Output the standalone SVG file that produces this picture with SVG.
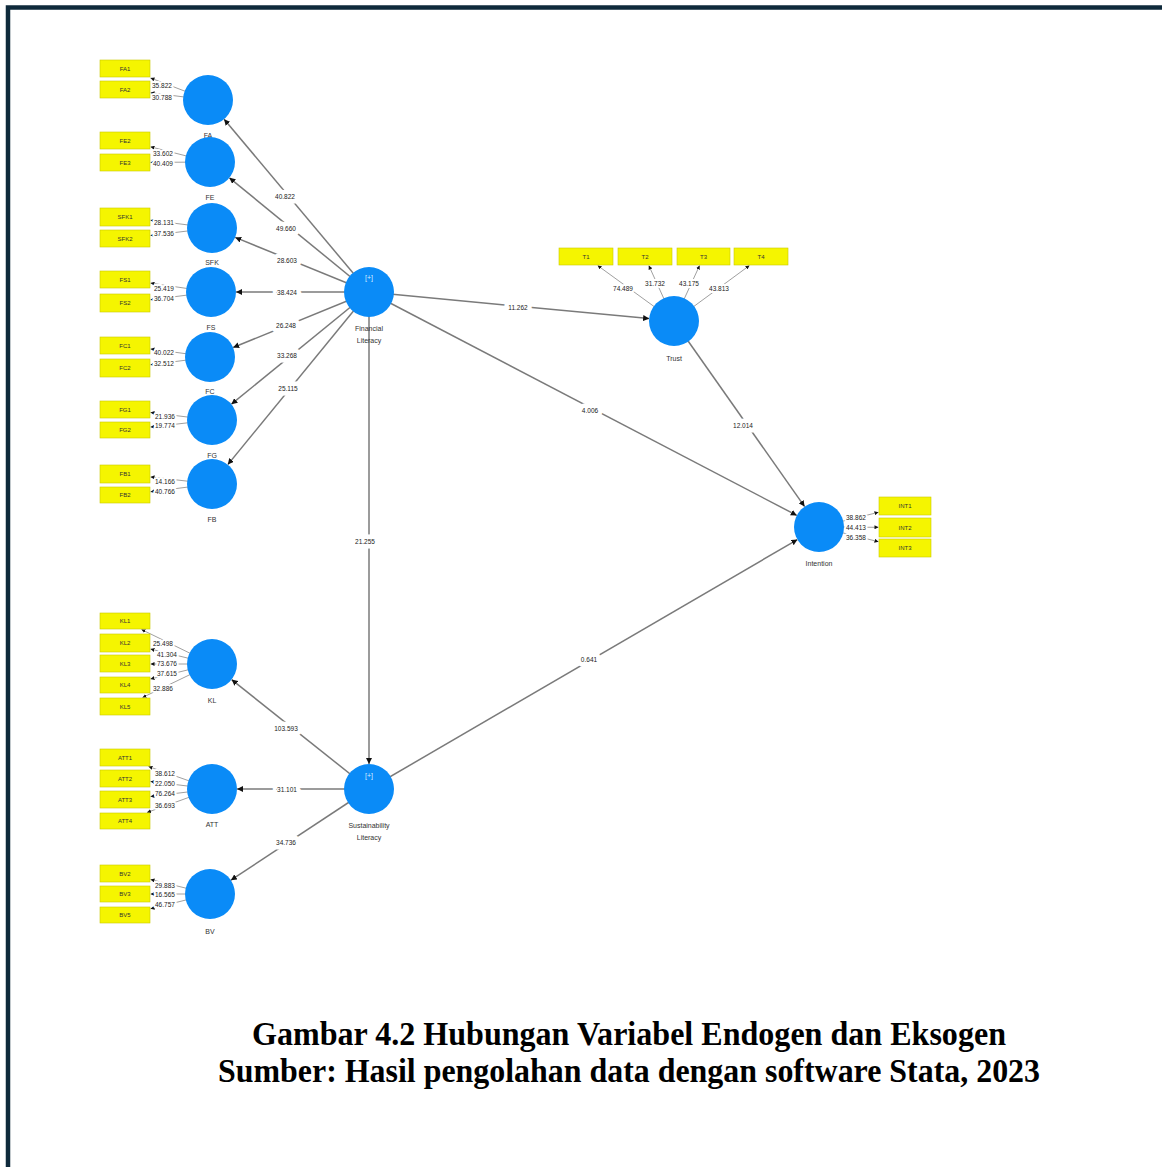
<svg xmlns="http://www.w3.org/2000/svg" width="1162" height="1167" viewBox="0 0 1162 1167">
  <style>
    .lv { fill: #0a8bf7; }
    .ind { fill: #f5f500; stroke: #c9c900; stroke-width: 0.6; }
    .indt { font-family: "Liberation Sans", Arial, sans-serif; font-size: 6px; fill: #333; text-anchor: middle; dominant-baseline: central; }
    .name { font-family: "Liberation Sans", Arial, sans-serif; font-size: 7px; fill: #333; text-anchor: middle; dominant-baseline: central; }
    .plus { font-family: "Liberation Sans", Arial, sans-serif; font-size: 7px; fill: #d8ecff; text-anchor: middle; dominant-baseline: central; }
    .path { stroke: #7a7a7a; stroke-width: 1.5; fill: none; marker-end: url(#arr); }
    .load { stroke: #a0a0a0; stroke-width: 1; fill: none; marker-end: url(#arrs); }
    .val { font-family: "Liberation Sans", Arial, sans-serif; font-size: 6.5px; fill: #222; dominant-baseline: central; paint-order: stroke; stroke: #fff; stroke-width: 4px; stroke-linejoin: round; }
    .pv { text-anchor: middle; stroke-width: 9px; }
    .cap { font-family: "Liberation Serif", "Times New Roman", serif; font-weight: bold; font-size: 33px; fill: #000; text-anchor: middle; }
  </style>
  <defs>
    <marker id="arr" markerUnits="userSpaceOnUse" markerWidth="6" markerHeight="6" refX="6" refY="3" orient="auto">
      <path d="M0,0 L6,3 L0,6 z" fill="#111"/>
    </marker>
    <marker id="arrs" markerUnits="userSpaceOnUse" markerWidth="4" markerHeight="4" refX="4" refY="2" orient="auto">
      <path d="M0,0 L4,2 L0,4 z" fill="#111"/>
    </marker>
  </defs>

  <rect width="1162" height="1167" fill="#fff"/>
  <!-- page frame -->
  <path d="M8,1167 V7.5 H1162" fill="none" stroke="#0f2a3b" stroke-width="4.5"/>

  <!-- connectors: outer loadings first, circles drawn over them -->
  <g id="connectors">
    <!-- indicator loadings -->
    <path class="load" d="M208,100 L150.5,78"/>
    <path class="load" d="M208,100 L150.5,92.7"/>
    <path class="load" d="M210,162 L150.5,146.8"/>
    <path class="load" d="M210,162 L150.5,162.4"/>
    <path class="load" d="M212,228 L150.5,220.2"/>
    <path class="load" d="M212,228 L150.5,235.5"/>
    <path class="load" d="M211,292 L150.5,283.1"/>
    <path class="load" d="M211,292 L150.5,299.8"/>
    <path class="load" d="M210,357 L150.5,348.9"/>
    <path class="load" d="M210,357 L150.5,364.8"/>
    <path class="load" d="M212,420 L150.5,412.5"/>
    <path class="load" d="M212,420 L150.5,427.1"/>
    <path class="load" d="M212,484 L150.5,476.9"/>
    <path class="load" d="M212,484 L150.5,491.8"/>
    <path class="load" d="M212,664 L141.5,629.5"/>
    <path class="load" d="M212,664 L150.5,649"/>
    <path class="load" d="M212,664 L150.5,664"/>
    <path class="load" d="M212,664 L150.5,679"/>
    <path class="load" d="M212,664 L142.5,697.5"/>
    <path class="load" d="M212,789 L148.5,766.5"/>
    <path class="load" d="M212,789 L150.5,781.5"/>
    <path class="load" d="M212,789 L150.5,796.5"/>
    <path class="load" d="M212,789 L147,812.5"/>
    <path class="load" d="M210,894 L150.5,879.5"/>
    <path class="load" d="M210,894 L150.5,894"/>
    <path class="load" d="M210,894 L150.5,908.8"/>
    <path class="load" d="M674,321 L597.6,265.5"/>
    <path class="load" d="M674,321 L648.8,265.5"/>
    <path class="load" d="M674,321 L699.6,265.5"/>
    <path class="load" d="M674,321 L749.5,265.5"/>
    <path class="load" d="M819,527 L878.5,512.3"/>
    <path class="load" d="M819,527 L878.5,527.3"/>
    <path class="load" d="M819,527 L878.5,541.7"/>

    <!-- structural paths -->
    <path class="path" d="M369,292 L224.1,119.2"/>
    <path class="path" d="M369,292 L229.4,177.8"/>
    <path class="path" d="M369,292 L235.2,237.4"/>
    <path class="path" d="M369,292 L236,292"/>
    <path class="path" d="M369,292 L233.1,347.5"/>
    <path class="path" d="M369,292 L231.4,404.2"/>
    <path class="path" d="M369,292 L227.8,464.6"/>
    <path class="path" d="M369,292 L649.1,318.6"/>
    <path class="path" d="M369,292 L796.8,515.4"/>
    <path class="path" d="M369,292 L369,764"/>
    <path class="path" d="M674,321 L804.6,506.6"/>
    <path class="path" d="M369,789 L797.4,539.6"/>
    <path class="path" d="M369,789 L231.6,679.6"/>
    <path class="path" d="M369,789 L237,789"/>
    <path class="path" d="M369,789 L230.9,880.2"/>

    <!-- path coefficients -->
    <text class="val pv" x="285" y="196">40.822</text>
    <text class="val pv" x="286" y="228">49.660</text>
    <text class="val pv" x="287" y="260">28.603</text>
    <text class="val pv" x="287" y="292">38.424</text>
    <text class="val pv" x="286" y="325">26.248</text>
    <text class="val pv" x="287" y="355">33.268</text>
    <text class="val pv" x="288" y="388">25.115</text>
    <text class="val pv" x="518" y="307">11.262</text>
    <text class="val pv" x="590" y="410">4.006</text>
    <text class="val pv" x="365" y="541">21.255</text>
    <text class="val pv" x="743" y="425">12.014</text>
    <text class="val pv" x="589" y="659">0.641</text>
    <text class="val pv" x="286" y="728">103.593</text>
    <text class="val pv" x="287" y="789">31.101</text>
    <text class="val pv" x="286" y="842">34.736</text>

    <!-- loading values -->
    <text class="val" x="152" y="85">35.822</text>
    <text class="val" x="152" y="97">30.788</text>
    <text class="val" x="153" y="153">33.602</text>
    <text class="val" x="153" y="163">40.409</text>
    <text class="val" x="154" y="222">28.131</text>
    <text class="val" x="154" y="233">37.536</text>
    <text class="val" x="154" y="288">25.419</text>
    <text class="val" x="154" y="298">36.704</text>
    <text class="val" x="154" y="352">40.022</text>
    <text class="val" x="154" y="363">32.512</text>
    <text class="val" x="155" y="416">21.936</text>
    <text class="val" x="155" y="425">19.774</text>
    <text class="val" x="155" y="481">14.166</text>
    <text class="val" x="155" y="491">40.766</text>
    <text class="val" x="153" y="643">25.498</text>
    <text class="val" x="157" y="654">41.304</text>
    <text class="val" x="157" y="663">73.676</text>
    <text class="val" x="157" y="673">37.615</text>
    <text class="val" x="153" y="688">32.886</text>
    <text class="val" x="155" y="773">38.612</text>
    <text class="val" x="155" y="783">22.050</text>
    <text class="val" x="155" y="793">76.264</text>
    <text class="val" x="155" y="805">36.693</text>
    <text class="val" x="155" y="885">29.883</text>
    <text class="val" x="155" y="894">16.565</text>
    <text class="val" x="155" y="904">46.757</text>
    <text class="val pv" x="623" y="288" style="stroke-width:4px">74.489</text>
    <text class="val pv" x="655" y="283" style="stroke-width:4px">31.732</text>
    <text class="val pv" x="689" y="283" style="stroke-width:4px">43.175</text>
    <text class="val pv" x="719" y="288" style="stroke-width:4px">43.813</text>
    <text class="val" x="846" y="517">38.862</text>
    <text class="val" x="846" y="527">44.413</text>
    <text class="val" x="846" y="537">36.358</text>
  </g>

  <!-- latent variables -->
  <g id="FA"><circle class="lv" cx="208" cy="100" r="25"/><text class="name" x="208" y="135">FA</text></g>
  <g id="FE"><circle class="lv" cx="210" cy="162" r="25"/><text class="name" x="210" y="197">FE</text></g>
  <g id="SFK"><circle class="lv" cx="212" cy="228" r="25"/><text class="name" x="212" y="262">SFK</text></g>
  <g id="FS"><circle class="lv" cx="211" cy="292" r="25"/><text class="name" x="211" y="327">FS</text></g>
  <g id="FC"><circle class="lv" cx="210" cy="357" r="25"/><text class="name" x="210" y="391">FC</text></g>
  <g id="FG"><circle class="lv" cx="212" cy="420" r="25"/><text class="name" x="212" y="455">FG</text></g>
  <g id="FB"><circle class="lv" cx="212" cy="484" r="25"/><text class="name" x="212" y="519">FB</text></g>
  <g id="FinancialLiteracy"><circle class="lv" cx="369" cy="292" r="25"/><text class="plus" x="369" y="277">[+]</text><text class="name" x="369" y="328">Financial</text><text class="name" x="369" y="340">Literacy</text></g>
  <g id="Trust"><circle class="lv" cx="674" cy="321" r="25"/><text class="name" x="674" y="358">Trust</text></g>
  <g id="Intention"><circle class="lv" cx="819" cy="527" r="25"/><text class="name" x="819" y="563">Intention</text></g>
  <g id="KL"><circle class="lv" cx="212" cy="664" r="25"/><text class="name" x="212" y="700">KL</text></g>
  <g id="ATT"><circle class="lv" cx="212" cy="789" r="25"/><text class="name" x="212" y="824">ATT</text></g>
  <g id="SustainabilityLiteracy"><circle class="lv" cx="369" cy="789" r="25"/><text class="plus" x="369" y="775">[+]</text><text class="name" x="369" y="825">Sustainability</text><text class="name" x="369" y="837">Literacy</text></g>
  <g id="BV"><circle class="lv" cx="210" cy="894" r="25"/><text class="name" x="210" y="931">BV</text></g>

  <!-- indicators -->
  <g id="FA1"><rect class="ind" x="100" y="60" width="50" height="17"/><text class="indt" x="125" y="68.5">FA1</text></g>
  <g id="FA2"><rect class="ind" x="100" y="81" width="50" height="17"/><text class="indt" x="125" y="89.5">FA2</text></g>
  <g id="FE2"><rect class="ind" x="100" y="132" width="50" height="17"/><text class="indt" x="125" y="140.5">FE2</text></g>
  <g id="FE3"><rect class="ind" x="100" y="154" width="50" height="17"/><text class="indt" x="125" y="162.5">FE3</text></g>
  <g id="SFK1"><rect class="ind" x="100" y="208" width="50" height="18"/><text class="indt" x="125" y="217">SFK1</text></g>
  <g id="SFK2"><rect class="ind" x="100" y="230" width="50" height="17"/><text class="indt" x="125" y="238.5">SFK2</text></g>
  <g id="FS1"><rect class="ind" x="100" y="271" width="50" height="17"/><text class="indt" x="125" y="279.5">FS1</text></g>
  <g id="FS2"><rect class="ind" x="100" y="294" width="50" height="18"/><text class="indt" x="125" y="303">FS2</text></g>
  <g id="FC1"><rect class="ind" x="100" y="337" width="50" height="17"/><text class="indt" x="125" y="345.5">FC1</text></g>
  <g id="FC2"><rect class="ind" x="100" y="359" width="50" height="18"/><text class="indt" x="125" y="368">FC2</text></g>
  <g id="FG1"><rect class="ind" x="100" y="401" width="50" height="17"/><text class="indt" x="125" y="409.5">FG1</text></g>
  <g id="FG2"><rect class="ind" x="100" y="422" width="50" height="16"/><text class="indt" x="125" y="430">FG2</text></g>
  <g id="FB1"><rect class="ind" x="100" y="465" width="50" height="18"/><text class="indt" x="125" y="474">FB1</text></g>
  <g id="FB2"><rect class="ind" x="100" y="487" width="50" height="16"/><text class="indt" x="125" y="495">FB2</text></g>
  <g id="KL1"><rect class="ind" x="100" y="613" width="50" height="16"/><text class="indt" x="125" y="621">KL1</text></g>
  <g id="KL2"><rect class="ind" x="100" y="634" width="50" height="18"/><text class="indt" x="125" y="643">KL2</text></g>
  <g id="KL3"><rect class="ind" x="100" y="655" width="50" height="17"/><text class="indt" x="125" y="663.5">KL3</text></g>
  <g id="KL4"><rect class="ind" x="100" y="677" width="50" height="16"/><text class="indt" x="125" y="685">KL4</text></g>
  <g id="KL5"><rect class="ind" x="100" y="698" width="50" height="17"/><text class="indt" x="125" y="706.5">KL5</text></g>
  <g id="ATT1"><rect class="ind" x="100" y="749" width="50" height="17"/><text class="indt" x="125" y="757.5">ATT1</text></g>
  <g id="ATT2"><rect class="ind" x="100" y="770" width="50" height="17"/><text class="indt" x="125" y="778.5">ATT2</text></g>
  <g id="ATT3"><rect class="ind" x="100" y="791" width="50" height="17"/><text class="indt" x="125" y="799.5">ATT3</text></g>
  <g id="ATT4"><rect class="ind" x="100" y="813" width="50" height="16"/><text class="indt" x="125" y="821">ATT4</text></g>
  <g id="BV2"><rect class="ind" x="100" y="865" width="50" height="17"/><text class="indt" x="125" y="873.5">BV2</text></g>
  <g id="BV3"><rect class="ind" x="100" y="886" width="50" height="16"/><text class="indt" x="125" y="894">BV3</text></g>
  <g id="BV5"><rect class="ind" x="100" y="907" width="50" height="16"/><text class="indt" x="125" y="915">BV5</text></g>
  <g id="T1"><rect class="ind" x="559" y="248" width="54" height="17"/><text class="indt" x="586" y="256.5">T1</text></g>
  <g id="T2"><rect class="ind" x="618" y="248" width="54" height="17"/><text class="indt" x="645" y="256.5">T2</text></g>
  <g id="T3"><rect class="ind" x="677" y="248" width="53" height="17"/><text class="indt" x="703.5" y="256.5">T3</text></g>
  <g id="T4"><rect class="ind" x="734" y="248" width="54" height="17"/><text class="indt" x="761" y="256.5">T4</text></g>
  <g id="INT1"><rect class="ind" x="879" y="497" width="52" height="18"/><text class="indt" x="905" y="506">INT1</text></g>
  <g id="INT2"><rect class="ind" x="879" y="518" width="52" height="19"/><text class="indt" x="905" y="527.5">INT2</text></g>
  <g id="INT3"><rect class="ind" x="879" y="539" width="52" height="18"/><text class="indt" x="905" y="548">INT3</text></g>

  <!-- caption -->
  <text class="cap" x="629" y="1045" textLength="754" lengthAdjust="spacingAndGlyphs">Gambar 4.2 Hubungan Variabel Endogen dan Eksogen</text>
  <text class="cap" x="629" y="1082" textLength="822" lengthAdjust="spacingAndGlyphs">Sumber: Hasil pengolahan data dengan software Stata, 2023</text>
</svg>
